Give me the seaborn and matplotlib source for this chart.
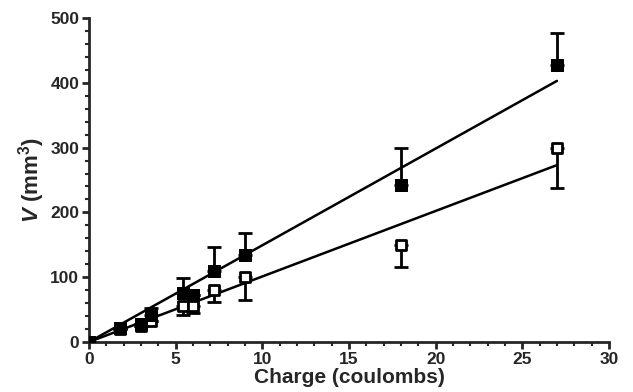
import numpy as np
import pandas as pd
import seaborn as sns
import matplotlib.pyplot as plt
from matplotlib.ticker import MultipleLocator

# Values
charge = [0, 1.8, 3.0, 3.6, 5.4, 6.0, 7.2, 9.0, 18.0, 27.0]
vol_filled = [0, 22, 28, 42, 75, 72, 110, 135, 242, 427]
err_filled = [0, 0, 0, 10, 23, 0, 37, 33, 58, 50]
vol_open = [0, 20, 25, 32, 55, 55, 80, 100, 150, 300]
err_open = [0, 0, 0, 0, 13, 10, 18, 35, 35, 62]

# Fitted lines (through origin)
fit_x = [0, 27]
fit_filled = [0, 403]
fit_open = [0, 273]

sns.set_style('ticks')
plt.rcParams['font.family'] = ['Liberation Sans', 'DejaVu Sans']
plt.rcParams['font.weight'] = 'bold'
plt.rcParams['axes.labelweight'] = 'bold'
plt.rcParams['mathtext.fontset'] = 'custom'
plt.rcParams['mathtext.rm'] = 'Liberation Sans:bold'
plt.rcParams['mathtext.it'] = 'Liberation Sans:italic:bold'

fig = plt.figure(figsize=(6.33, 3.92), dpi=100)
ax = fig.add_axes([0.1406, 0.1276, 0.8214, 0.8264])

fits = pd.DataFrame({'x': fit_x * 2, 'y': fit_filled + fit_open,
                     'group': ['filled'] * 2 + ['open'] * 2})
sns.lineplot(data=fits, x='x', y='y', units='group', estimator=None,
             color='black', lw=1.8, ax=ax)

# one-sided error bars: filled up, open down
ax.errorbar(charge, vol_filled, yerr=[np.zeros(len(err_filled)), err_filled],
            fmt='none', ecolor='black', elinewidth=2, capsize=5, capthick=2, zorder=2)
ax.errorbar(charge, vol_open, yerr=[err_open, np.zeros(len(err_open))],
            fmt='none', ecolor='black', elinewidth=2, capsize=5, capthick=2, zorder=2)

sns.scatterplot(x=charge, y=vol_open, marker='s', s=50, facecolor='white',
                edgecolor='black', linewidth=2, ax=ax, zorder=3)
sns.scatterplot(x=charge, y=vol_filled, marker='s', s=80, color='black',
                edgecolor='black', ax=ax, zorder=4)

ax.set_xlim(0, 30)
ax.set_ylim(0, 500)
ax.xaxis.set_major_locator(MultipleLocator(5))
ax.xaxis.set_minor_locator(MultipleLocator(1))
ax.yaxis.set_major_locator(MultipleLocator(100))
ax.yaxis.set_minor_locator(MultipleLocator(20))
ax.tick_params(which='major', length=5, width=2, labelsize=12.5, pad=2)
ax.tick_params(which='minor', length=3, width=1.5)

sns.despine(ax=ax)
ax.spines['left'].set_linewidth(2)
ax.spines['bottom'].set_linewidth(2)

ax.set_xlabel('Charge (coulombs)', fontsize=15, labelpad=1)
ax.set_ylabel(r'$V$ (mm$^3$)', fontsize=16, labelpad=2)

fig.savefig('out.png', dpi=100)
